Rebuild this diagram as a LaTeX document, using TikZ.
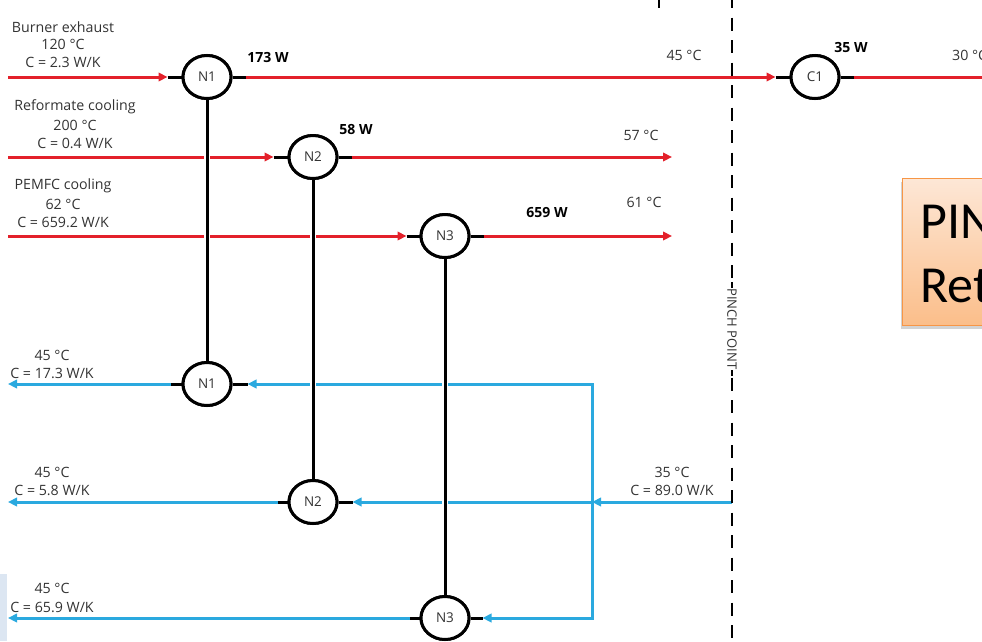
\documentclass[tikz,border=0pt]{standalone}
\usepackage{fontspec}
\setmainfont{Open Sans}
\newfontfamily\boxfont{Carlito}
\usetikzlibrary{arrows.meta,shapes.geometric,shadows}
\definecolor{hotred}{HTML}{E3202A}
\definecolor{coldblue}{HTML}{2AA9DF}
\definecolor{txt}{HTML}{333333}
\definecolor{boxtop}{HTML}{FDE7D6}
\definecolor{boxbot}{HTML}{FBBE8A}
\definecolor{boxedge}{HTML}{F79646}
\definecolor{panel}{HTML}{DCE6F2}
\begin{document}
\begin{tikzpicture}[x=1pt,y=-1pt,
  hx/.style={ellipse, draw=black, line width=3pt, fill=white, minimum width=48pt, minimum height=43pt, inner sep=0pt, font=\fontsize{13.5}{13.5}\selectfont, text=txt},
  hot/.style={draw=hotred, line width=3pt},
  cold/.style={draw=coldblue, line width=3pt},
  tip/.style={-{Triangle[length=9pt,width=8.5pt]}},
  tipboth/.style={{Triangle[length=9pt,width=8.5pt]}-{Triangle[length=9pt,width=8.5pt]}},
  stub/.style={draw=black, line width=3pt},
  halo/.style={draw=white, line width=6.5pt},
  link/.style={draw=black, line width=3pt},
  lbl/.style={font=\fontsize{14.2}{14.2}\selectfont, text=txt, inner sep=0pt},
  duty/.style={font=\bfseries\fontsize{14}{14}\selectfont, text=black, inner sep=0pt},
  pinch/.style={draw=black, line width=1.9pt, dash pattern=on 13pt off 9.5pt},
]
\useasboundingbox (0,0) rectangle (982,641);
\clip (0,0) rectangle (982,641);

% background panel fragment
\fill[panel] (0,574) rectangle (7,641);
\draw[line width=2pt] (659,0) -- (659,8);

% coordinates
\coordinate (h1s) at (8,77);
\coordinate (h1e) at (995,77);
\coordinate (h2s) at (8,157);
\coordinate (h2e) at (672,157);
\coordinate (h3s) at (8,236);
\coordinate (h3e) at (672,236);
\coordinate (c1e) at (8,384);
\coordinate (c2e) at (8,502);
\coordinate (c3e) at (8,618);
\coordinate (cs) at (732,502);
\coordinate (jT) at (592,384);
\coordinate (jM) at (592,502);
\coordinate (jB) at (592,618);
\coordinate (pt) at (732,-5);
\coordinate (pb) at (732,650);

% exchanger nodes
\path
  (207,77)  coordinate (phN1)
  (313,157) coordinate (phN2)
  (445,236) coordinate (phN3)
  (207,384) coordinate (pcN1)
  (313,502) coordinate (pcN2)
  (445,618) coordinate (pcN3)
  (815,77)  coordinate (pC1);
\node[hx] (hN1) at (phN1) {N1};
\node[hx] (hN2) at (phN2) {N2};
\node[hx] (hN3) at (phN3) {N3};
\node[hx] (cN1) at (pcN1) {N1};
\node[hx] (cN2) at (pcN2) {N2};
\node[hx] (cN3) at (pcN3) {N3};
\node[hx] (C1) at (pC1) {C1};

% hot streams
\draw[hot,tip] (h1s) -- ([xshift=-14pt]hN1.west);
\draw[stub] ([xshift=-14pt]hN1.west) -- (hN1.west);
\draw[stub] (hN1.east) -- ([xshift=13pt]hN1.east);
\draw[hot,tip] ([xshift=13pt]hN1.east) -- ([xshift=-14pt]C1.west);
\draw[stub] ([xshift=-14pt]C1.west) -- (C1.west);
\draw[stub] (C1.east) -- ([xshift=13pt]C1.east);
\draw[hot] ([xshift=13pt]C1.east) -- (h1e);

\draw[hot,tip] (h2s) -- ([xshift=-14pt]hN2.west);
\draw[stub] ([xshift=-14pt]hN2.west) -- (hN2.west);
\draw[stub] (hN2.east) -- ([xshift=13pt]hN2.east);
\draw[hot,tip] ([xshift=13pt]hN2.east) -- (h2e);

\draw[hot,tip] (h3s) -- ([xshift=-13pt]hN3.west);
\draw[stub] ([xshift=-13pt]hN3.west) -- (hN3.west);
\draw[stub] (hN3.east) -- ([xshift=13pt]hN3.east);
\draw[hot,tip] ([xshift=13pt]hN3.east) -- (h3e);

% cold streams
\draw[cold,tip] (cs) -- (jM);
\draw[cold,tip] (jM) -- ([xshift=14pt]cN2.east);
\draw[stub] ([xshift=14pt]cN2.east) -- (cN2.east);
\draw[cold,tipboth,line join=miter] ([xshift=15pt]cN1.east) -- (jT) -- (jB) -- ([xshift=12pt]cN3.east);
\draw[stub] ([xshift=15pt]cN1.east) -- (cN1.east);
\draw[stub] ([xshift=12pt]cN3.east) -- (cN3.east);

\draw[stub] (cN1.west) -- ([xshift=-11pt]cN1.west);
\draw[cold,tip] ([xshift=-11pt]cN1.west) -- (c1e);
\draw[stub] (cN2.west) -- ([xshift=-10pt]cN2.west);
\draw[cold,tip] ([xshift=-10pt]cN2.west) -- (c2e);
\draw[stub] (cN3.west) -- ([xshift=-10pt]cN3.west);
\draw[cold,tip] ([xshift=-10pt]cN3.west) -- (c3e);

% exchanger links
\draw[halo] (hN1.south) -- (cN1.north);
\draw[halo] (hN2.south) -- (cN2.north);
\draw[halo] (hN3.south) -- (cN3.north);
\draw[link] (hN1.south) -- (cN1.north);
\draw[link] (hN2.south) -- (cN2.north);
\draw[link] (hN3.south) -- (cN3.north);

% redraw exchanger circles on top
\node[hx] at (phN1) {N1};
\node[hx] at (phN2) {N2};
\node[hx] at (phN3) {N3};
\node[hx] at (pcN1) {N1};
\node[hx] at (pcN2) {N2};
\node[hx] at (pcN3) {N3};
\node[hx] at (pC1) {C1};

% pinch line
\draw[pinch] (pt) -- (pb);
\node[fill=white, inner sep=0.3pt, rotate=-90, font=\fontsize{13}{13}\selectfont, text=txt] (pinchlbl) at (732,329) {PINCH POINT};
\draw[line width=1.9pt] (pinchlbl.west) -- ([yshift=6pt]pinchlbl.west);
\draw[line width=1.9pt] (pinchlbl.east) -- ([yshift=-6pt]pinchlbl.east);

% stream labels
\node[lbl] (l1a) at (63,27) {Burner exhaust};
\node[lbl] (l1b) at (63,44) {120 °C};
\node[lbl] (l1c) at (63,62) {C = 2.3 W/K};
\node[lbl] (l2a) at (75,107) {Reformate cooling};
\node[lbl] (l2b) at (75,125) {200 °C};
\node[lbl] (l2c) at (75,143) {C = 0.4 W/K};
\node[lbl] (l3a) at (63,186) {PEMFC cooling};
\node[lbl] (l3b) at (63,204) {62 °C};
\node[lbl] (l3c) at (63,222) {C = 659.2 W/K};

\node[duty] (d1) at (268,57) {173 W};
\node[duty] (d2) at (356,129) {58 W};
\node[duty] (d3) at (547,213) {659 W};
\node[duty] (d4) at (851,47) {35 W};

\node[lbl] (t1) at (684,55) {45 °C};
\node[lbl] (t2) at (641,135) {57 °C};
\node[lbl] (t3) at (644,202) {61 °C};
\node[lbl, anchor=west] (t4) at (952,55) {30 °C};

\node[lbl] (k1a) at (52,355) {45 °C};
\node[lbl] (k1b) at (52,373) {C = 17.3 W/K};
\node[lbl] (k2a) at (52,472) {45 °C};
\node[lbl] (k2b) at (52,490) {C = 5.8 W/K};
\node[lbl] (k3a) at (52,588) {45 °C};
\node[lbl] (k3b) at (52,607) {C = 65.9 W/K};
\node[lbl] (k4a) at (672,472) {35 °C};
\node[lbl] (k4b) at (672,490) {C = 89.0 W/K};

% orange callout (cut by the right edge)
\node[draw=boxedge, line width=1.2pt, top color=boxtop, bottom color=boxbot,
      minimum width=200pt, minimum height=147pt, anchor=north west, inner sep=0pt,
      drop shadow={shadow xshift=-2pt, shadow yshift=-3pt, opacity=0.35}] (pbox) at (902,178) {};
\node[anchor=base west, inner sep=0pt, font=\boxfont\fontsize{52}{52}\selectfont] (bx1) at (920,238) {PIN};
\node[anchor=base west, inner sep=0pt, font=\boxfont\fontsize{52}{52}\selectfont] (bx2) at (920,302) {Ret};
\end{tikzpicture}
\end{document}
